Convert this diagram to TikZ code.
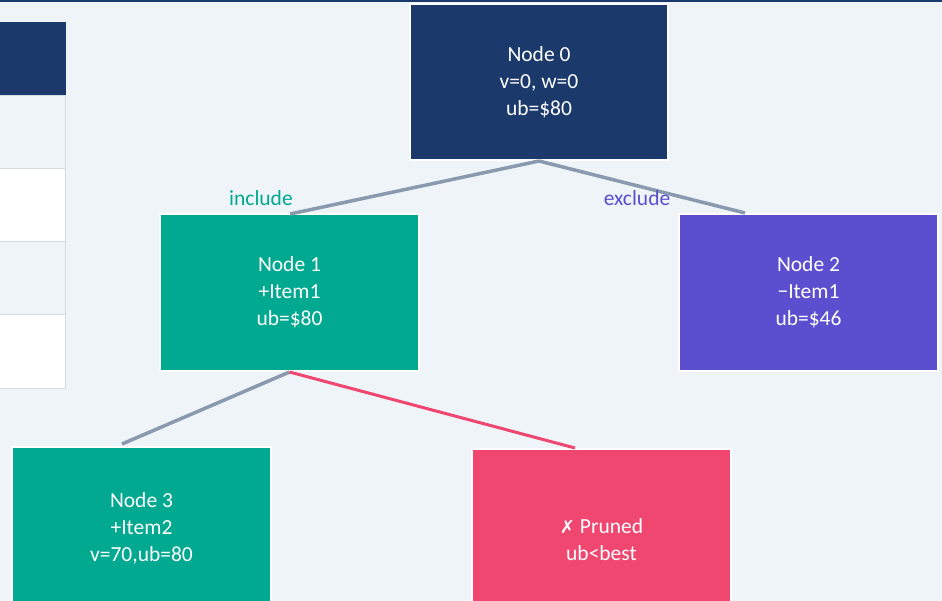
\documentclass[tikz,border=0pt]{standalone}
\usepackage{fontspec}
\setmainfont{Carlito}
\newfontfamily\symfont{DejaVu Sans}
\usetikzlibrary{calc}
\definecolor{navy}{HTML}{1B3A6B}
\definecolor{teal}{HTML}{00A98F}
\definecolor{violet}{HTML}{5B4FCF}
\definecolor{rose}{HTML}{EF4770}
\definecolor{edgegray}{HTML}{8A9AAE}
\definecolor{paper}{HTML}{EFF4F9}
\definecolor{rule}{HTML}{D3DBE5}
\tikzset{
  treenode/.style={draw=white, line width=2pt, text=white, align=center,
    minimum width=258pt, minimum height=156pt, inner sep=0pt,
    font=\fontsize{21.5}{27}\selectfont},
  branch/.style={draw=edgegray, line width=3.5pt},
  prune/.style={draw=rose, line width=3pt},
  edgelabel/.style={font=\fontsize{21.5}{24}\selectfont},
}
\begin{document}
\begin{tikzpicture}[x=1pt,y=-1pt]
  % canvas
  \fill[paper] (0,0) rectangle (942,601);
  \useasboundingbox (0,0) rectangle (942,601);
  \fill[navy] (0,0) rectangle (942,2);

  % table strip on the left
  \fill[navy] (-2,22) rectangle (66,96);
  \filldraw[fill=paper, draw=rule, line width=1pt] (-2,96) rectangle (65,169);
  \filldraw[fill=white, draw=rule, line width=1pt] (-2,169) rectangle (65,242);
  \filldraw[fill=paper, draw=rule, line width=1pt] (-2,242) rectangle (65,315);
  \filldraw[fill=white, draw=rule, line width=1pt] (-2,315) rectangle (65,388);

  % tree nodes
  \node[treenode, fill=navy] (n0) at (539,82) {Node 0\\v=0, w=0\\ub=\$80};
  \node[treenode, fill=teal, minimum width=259pt, minimum height=157pt] (n1) at (289.5,292.5) {Node 1\\+Item1\\ub=\$80};
  \node[treenode, fill=violet, minimum width=259pt, minimum height=157pt] (n2) at (808.5,292.5) {Node 2\\−Item1\\ub=\$46};
  \node[treenode, fill=teal, minimum width=259pt, minimum height=162pt] (n3) at (141.5,528) {Node 3\\+Item2\\v=70,ub=80};
  \node[treenode, fill=rose, minimum width=259pt, minimum height=181pt] (np) at (601.5,539.5) {{\symfont\fontsize{18}{27}\selectfont ✗} Pruned\\ub<best};

  % branches
  \draw[branch] (n0.south) -- ($(n1.north)+(0.5,1)$);
  \draw[branch] (n0.south) -- ($(n2.north)+(-63.5,0)$);
  \draw[branch] (n1.south) -- ($(n3.north)+(-19.5,-2)$);
  \draw[prune] (n1.south) -- ($(np.north)+(-26.5,0)$);

  % branch labels
  \node[edgelabel, text=teal] (linc) at (261,198) {include};
  \node[edgelabel, text=violet] (lexc) at (637,198) {exclude};
\end{tikzpicture}
\end{document}
